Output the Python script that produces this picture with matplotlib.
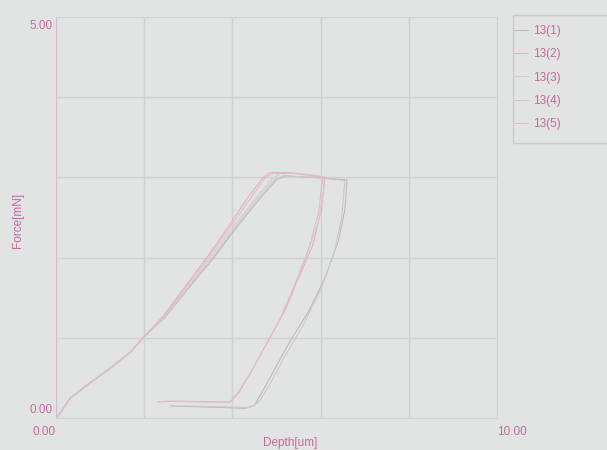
import numpy as np
import matplotlib
matplotlib.use("Agg")
import matplotlib.pyplot as plt
from matplotlib.patches import Rectangle

# indentation curves (depth in um, force in mN)
labels = ["13(1)", "13(2)", "13(3)", "13(4)", "13(5)"]

depth_1 = [0.0, 0.09, 0.32, 0.77, 1.22, 1.68, 1.97, 2.45, 2.95, 3.58, 4.1, 4.6, 5.0, 5.2,
           5.8, 6.6, 6.55, 6.4, 6.1, 5.75, 5.3, 4.95, 4.65, 4.5, 4.3, 3.8, 3.2, 2.6]
force_1 = [0.0, 0.06, 0.25, 0.44, 0.62, 0.82, 1.0, 1.24, 1.58, 2.0, 2.38, 2.72, 2.97, 3.02,
           3.0, 2.97, 2.6, 2.2, 1.75, 1.35, 0.95, 0.6, 0.3, 0.16, 0.12, 0.13, 0.14, 0.15]

depth_2 = [0.0, 0.09, 0.32, 0.77, 1.22, 1.68, 1.97, 2.43, 2.9, 3.42, 3.9, 4.35, 4.7, 4.85,
           5.3, 5.7, 6.1, 6.02, 5.82, 5.5, 5.2, 4.85, 4.45, 4.15, 3.95, 3.4, 2.8, 2.3]
force_2 = [0.0, 0.06, 0.25, 0.44, 0.62, 0.82, 1.0, 1.27, 1.62, 2.0, 2.38, 2.75, 3.0, 3.06,
           3.06, 3.03, 3.0, 2.6, 2.15, 1.75, 1.35, 1.0, 0.6, 0.32, 0.2, 0.2, 0.21, 0.2]

depth_3 = [0.0, 0.1, 0.34, 0.8, 1.25, 1.7, 1.99, 2.5, 3.0, 3.5, 4.0, 4.5, 4.9, 5.08,
           5.5, 6.0, 6.08, 5.95, 5.7, 5.4, 5.05, 4.7, 4.35, 4.1, 3.95, 3.5, 3.0]
force_3 = [0.0, 0.06, 0.25, 0.44, 0.62, 0.82, 1.0, 1.3, 1.65, 2.0, 2.37, 2.72, 2.98, 3.05,
           3.05, 3.02, 2.9, 2.45, 2.05, 1.65, 1.2, 0.85, 0.5, 0.28, 0.2, 0.2, 0.21]

depth_4 = [0.0, 0.1, 0.33, 0.78, 1.23, 1.69, 1.98, 2.46, 2.96, 3.55, 4.05, 4.55, 4.95, 5.15,
           5.9, 6.55, 6.48, 6.3, 6.0, 5.6, 5.2, 4.85, 4.6, 4.4, 3.7, 2.9]
force_4 = [0.0, 0.06, 0.25, 0.44, 0.62, 0.82, 1.0, 1.25, 1.6, 2.0, 2.37, 2.72, 2.97, 3.02,
           3.0, 2.96, 2.5, 2.05, 1.6, 1.15, 0.78, 0.42, 0.2, 0.13, 0.14, 0.15]

depth_5 = [0.0, 0.09, 0.32, 0.77, 1.22, 1.68, 1.97, 2.44, 2.92, 3.45, 3.95, 4.4, 4.75, 4.9,
           5.4, 6.05, 5.95, 5.75, 5.45, 5.1, 4.75, 4.4, 4.1, 3.95, 3.3, 2.5]
force_5 = [0.0, 0.06, 0.25, 0.44, 0.62, 0.82, 1.0, 1.26, 1.62, 2.0, 2.38, 2.73, 3.0, 3.05,
           3.05, 3.0, 2.55, 2.15, 1.7, 1.25, 0.9, 0.55, 0.3, 0.2, 0.2, 0.21]

depths = [depth_1, depth_2, depth_3, depth_4, depth_5]
forces = [force_1, force_2, force_3, force_4, force_5]

BG = "#e2e4e4"
PINK = "#c46a9c"
GRID = "#cfd1d2"
colors = ["#bdb7bb", "#e6adc5", "#d6cbd1", "#cdc7ca", "#dfbccb"]

plt.rcParams["font.family"] = ["Liberation Sans Narrow", "Liberation Sans", "DejaVu Sans"]

fig = plt.figure(figsize=(6.07, 4.5), dpi=100, facecolor=BG)
ax = fig.add_axes([56 / 607, 32 / 450, 441 / 607, 401 / 450], facecolor=BG)

handles = []
for d, f, c, lab in zip(depths, forces, colors, labels):
    h, = ax.plot(d, f, color=c, lw=0.75, label=lab)
    handles.append(h)

ax.set_xlim(0, 10)
ax.set_ylim(0, 5)
ax.set_xticks(np.arange(0, 10.1, 2))
ax.set_yticks(np.arange(0, 5.1, 1))
ax.grid(True, color=GRID, lw=1.0)
ax.tick_params(length=0, labelbottom=False, labelleft=False)
for side in ["top", "bottom", "right"]:
    ax.spines[side].set_color(GRID)
ax.spines["top"].set_visible(False)
ax.spines["left"].set_color("#d8bcca")

# end-of-axis labels like the instrument software
tick_kw = dict(color=PINK, fontsize=8.5)
ax.text(-0.08, 4.96, "5.00", ha="right", va="top", **tick_kw)
ax.text(-0.08, 0.02, "0.00", ha="right", va="bottom", **tick_kw)
ax.text(0, -0.18, "0.00", ha="right", va="center", **tick_kw)
ax.text(10, -0.18, "10.00", ha="left", va="center", **tick_kw)

fig.text(290 / 607, 1 - 443 / 450, "Depth[um]", ha="center", va="center", **tick_kw)
fig.text(18 / 607, 1 - 220 / 450, "Force[mN]", ha="center", va="center",
         rotation=90, **tick_kw)

fig.patches.append(Rectangle((513 / 607, 1 - 143 / 450), 0.2, 128 / 450,
                             transform=fig.transFigure, fill=False,
                             edgecolor="#c9cbcc", lw=1.0))
leg = fig.legend(handles=handles, loc="upper left",
                 bbox_to_anchor=(513 / 607, 1 - 24 / 450), frameon=False,
                 fontsize=8.5, labelcolor=PINK, handlelength=1.2,
                 handletextpad=0.4, labelspacing=0.95, borderaxespad=0,
                 borderpad=0.1)

fig.savefig("out.png", dpi=100, facecolor=BG)
